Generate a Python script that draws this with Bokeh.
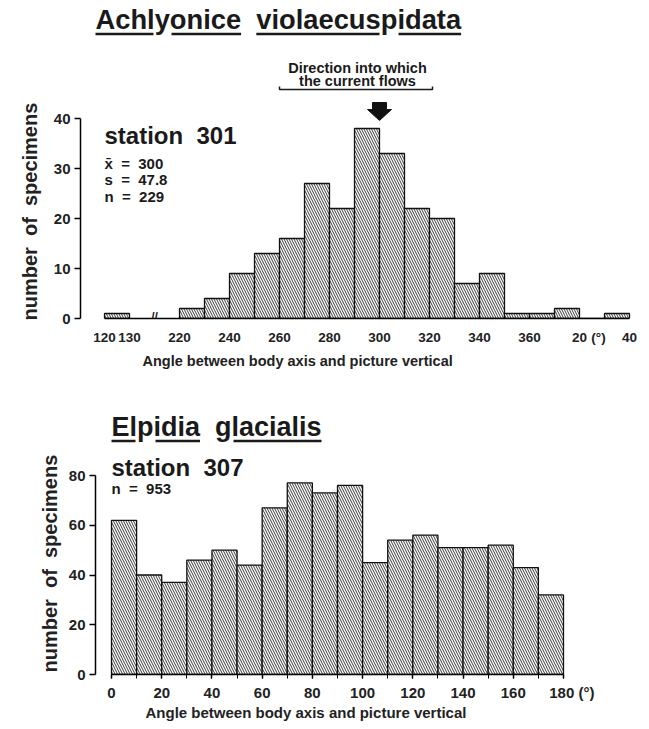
from bokeh.plotting import figure
from bokeh.models import Label, FixedTicker, Range1d, Title
from bokeh.embed import file_html
from bokeh.resources import INLINE

# ---------------- data ----------------
# Achlyonice violaecuspidata, station 301 (angles in degrees, 10-degree bins, left edges)
top_bin_start = [120, 220, 230, 240, 250, 260, 270, 280, 290, 300, 310, 320, 330, 340, 350, 0, 10, 20, 30]
top_counts = [1, 2, 4, 9, 13, 16, 27, 22, 38, 33, 22, 20, 7, 9, 1, 1, 2, 0, 1]
top_tick_angles = [120, 130, 220, 240, 260, 280, 300, 320, 340, 360, 20, 40]
top_tick_labels = ["120", "130", "220", "240", "260", "280", "300", "320", "340", "360", "20", "40"]
top_mean = 300
top_sd = 47.8
top_n = 229

# Elpidia glacialis, station 307
bot_bin_start = [0, 10, 20, 30, 40, 50, 60, 70, 80, 90, 100, 110, 120, 130, 140, 150, 160, 170]
bot_counts = [62, 40, 37, 46, 50, 44, 67, 77, 73, 76, 45, 54, 56, 51, 51, 52, 43, 32]
bot_ticks = [0, 20, 40, 60, 80, 100, 120, 140, 160, 180]
bot_n = 953

FONT = "Liberation Sans"
BIN = 10
SP = "\u00a0\u00a0"   # wide word gap as in the original lettering
XLABEL = "Angle between body axis and picture vertical"
YLABEL = "number" + SP + "of" + SP + "specimens"


def tpos(a):
    """broken top axis: 120-130 bin, gap, then 220 .. 400 (=40)."""
    a = a if a >= 120 else a + 360
    if a <= 130:
        return (a - 120) / BIN
    return 3 + (a - 220) / BIN


def style_common(p):
    p.grid.visible = False
    p.outline_line_color = None
    p.background_fill_color = "white"
    p.border_fill_color = "white"
    for ax in p.axis:
        ax.axis_line_color = "black"
        ax.axis_line_width = 1.5
        ax.major_tick_line_color = "black"
        ax.major_tick_line_width = 1.5
        ax.minor_tick_line_color = "black"
        ax.major_label_text_font = FONT
        ax.major_label_text_font_style = "bold"
        ax.major_label_text_color = "#222222"


def label(p, x, y, text, size, align="left"):
    p.add_layout(Label(x=x, y=y, text=text, text_font=FONT, text_font_style="bold",
                       text_font_size=size, text_color="#1a1a1a", text_align=align,
                       text_baseline="middle"))


def side_title(p, text, size, offset, standoff, side):
    p.add_layout(Title(text=text, align="left", offset=offset, standoff=standoff,
                       text_font=FONT, text_font_style="bold", text_font_size=size,
                       text_color="#222222"), side)


def underline(p, fx, fy, spans, py):
    for a, b in spans:
        p.segment(x0=fx(a), y0=fy(py), x1=fx(b), y1=fy(py), line_color="#1a1a1a", line_width=2.5)


# ---------------- top chart ----------------
W = 649
TOP_H = 373
T_LEFT = 80
T_RIGHT = 645
T_BOTTOM = 318
T_XS = 25.0   # px per bin
T_YS = 5.0    # px per specimen
t_xstart = -(104 - T_LEFT) / T_XS
t_xend = t_xstart + (T_RIGHT - T_LEFT) / T_XS
t_yend = T_BOTTOM / T_YS

p1 = figure(width=W, height=TOP_H, output_backend="svg", toolbar_location=None,
            x_range=Range1d(t_xstart, t_xend), y_range=Range1d(0, t_yend),
            min_border_left=T_LEFT, min_border_right=W - T_RIGHT, min_border_top=0,
            min_border_bottom=TOP_H - T_BOTTOM)
style_common(p1)


def tx(px):
    return t_xstart + (px - T_LEFT) / T_XS


def ty(py):
    return (T_BOTTOM - py) / T_YS


lefts = [tpos(a) for a in top_bin_start]
rights = [l + 1 for l in lefts]
p1.quad(left=lefts, right=rights, bottom=0, top=top_counts, fill_color="white",
        line_color="#111111", line_width=1.3, hatch_pattern="\\", hatch_color="#222222",
        hatch_scale=5, hatch_weight=0.9)

deg_pos = tx(598)
t_ticks = [tpos(a) for a in top_tick_angles] + [deg_pos]
p1.xaxis.ticker = FixedTicker(ticks=t_ticks)
ovr = {tpos(a): s for a, s in zip(top_tick_angles, top_tick_labels)}
ovr[deg_pos] = "(°)"
p1.xaxis.major_label_overrides = ovr
p1.xaxis.bounds = (tpos(120), tpos(40))
p1.xaxis.major_tick_out = 0
p1.xaxis.major_tick_in = 0
p1.xaxis.minor_tick_out = 0
p1.xaxis.major_label_standoff = 11
p1.xaxis.major_label_text_font_size = "13.5px"
side_title(p1, XLABEL, "14.5px", 142 - T_LEFT, 6, "below")

p1.yaxis.ticker = FixedTicker(ticks=[0, 10, 20, 30, 40])
p1.yaxis.bounds = (0, 40)
p1.yaxis.major_tick_out = 6
p1.yaxis.major_tick_in = 0
p1.yaxis.minor_tick_out = 0
p1.yaxis.major_label_standoff = 4
p1.yaxis.major_label_text_font_size = "15px"
side_title(p1, YLABEL, "20px", -2, 20, "left")

# axis break mark
label(p1, (tpos(130) + tpos(220)) / 2, ty(316), "//", "12px", align="center")

# title with underline
label(p1, tx(95), ty(19), "Achlyonice" + SP + "violaecuspidata", "27.3px")
underline(p1, tx, ty, [(95, 153), (171, 240.6), (255.8, 379), (398, 460.6)], 33.5)

# current direction annotation
label(p1, tx(357), ty(67), "Direction into which", "14.5px", align="center")
label(p1, tx(357), ty(80), "the current flows", "14.5px", align="center")
p1.multi_line(xs=[[tx(279), tx(279), tx(432), tx(432)]], ys=[[ty(86), ty(89), ty(89), ty(86)]],
              line_color="#1a1a1a", line_width=1.5)
ax_px = T_LEFT + (tpos(top_mean) - t_xstart) * T_XS
arrow_x = [ax_px - 7, ax_px + 7, ax_px + 7, ax_px + 12, ax_px, ax_px - 12, ax_px - 7]
arrow_y = [102, 102, 109, 109, 120, 109, 109]
p1.patch(x=[tx(v) for v in arrow_x], y=[ty(v) for v in arrow_y], fill_color="#111111",
         line_color="#111111")

# station text
label(p1, tx(104), ty(135), "station" + SP + "301", "24px")
label(p1, tx(104), ty(162.5), "x\u0304" + SP + "=" + SP + "%d" % top_mean, "15px")
label(p1, tx(104), ty(179), "s" + SP + "=" + SP + "%.1f" % top_sd, "15px")
label(p1, tx(104), ty(196), "n" + SP + "=" + SP + "%d" % top_n, "15px")

# ---------------- bottom chart ----------------
BOT_H = 729 - TOP_H
OFF = TOP_H
B_LEFT = 95
B_RIGHT = 645
B_BOTTOM_PAGE = 674
B_XS = (563 - 111) / 180.0
B_YS = (674 - 475) / 80.0
b_xstart = -(111 - B_LEFT) / B_XS
b_xend = b_xstart + (B_RIGHT - B_LEFT) / B_XS
b_yend = (B_BOTTOM_PAGE - OFF) / B_YS

p2 = figure(width=W, height=BOT_H, output_backend="svg", toolbar_location=None,
            x_range=Range1d(b_xstart, b_xend), y_range=Range1d(0, b_yend),
            min_border_left=B_LEFT, min_border_right=W - B_RIGHT, min_border_top=0,
            min_border_bottom=729 - B_BOTTOM_PAGE)
style_common(p2)


def bx(px):
    return b_xstart + (px - B_LEFT) / B_XS


def by(py):
    return (B_BOTTOM_PAGE - py) / B_YS


p2.quad(left=bot_bin_start, right=[a + BIN for a in bot_bin_start], bottom=0, top=bot_counts,
        fill_color="white", line_color="#111111", line_width=1.3, hatch_pattern="\\",
        hatch_color="#222222", hatch_scale=5, hatch_weight=0.9)

p2.xaxis.ticker = FixedTicker(ticks=bot_ticks, minor_ticks=list(range(0, 181, BIN)))
p2.xaxis.major_label_overrides = {180: "\u2007\u2007180 (°)"}
p2.xaxis.bounds = (0, 180)
p2.xaxis.major_tick_out = 4
p2.xaxis.major_tick_in = 0
p2.xaxis.minor_tick_out = 4
p2.xaxis.minor_tick_in = 0
p2.xaxis.major_label_standoff = 5
p2.xaxis.major_label_text_font_size = "15px"
side_title(p2, XLABEL, "15px", 145 - B_LEFT, -4, "below")

p2.yaxis.ticker = FixedTicker(ticks=[0, 20, 40, 60, 80])
p2.yaxis.bounds = (0, 80)
p2.yaxis.major_tick_out = 6
p2.yaxis.major_tick_in = 0
p2.yaxis.minor_tick_out = 0
p2.yaxis.major_label_standoff = 4
p2.yaxis.major_label_text_font_size = "15px"
side_title(p2, YLABEL, "20px", 2, 9, "left")

label(p2, bx(111), by(426), "Elpidia" + SP + "glacialis", "27px")
underline(p2, bx, by, [(111, 135), (155, 199.5), (233, 321)], 440.5)

label(p2, bx(111), by(466.5), "station" + SP + "307", "24px")
label(p2, bx(111), by(488), "n" + SP + "=" + SP + "%d" % bot_n, "15px")

open("out.html", "w").write(file_html([p1, p2], INLINE))
